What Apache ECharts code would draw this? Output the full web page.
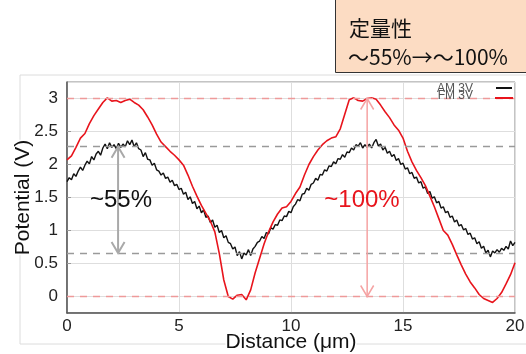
<!DOCTYPE html>
<html><head><meta charset="utf-8">
<script src="https://cdn.jsdelivr.net/npm/echarts@6/dist/echarts.min.js"></script>
<style>html,body{margin:0;padding:0;background:#fff}#c{width:526px;height:354px}</style>
</head><body><div id="c"></div>
<script>
// ---- data ----
const distanceAM = [0,0.1,0.2,0.3,0.4,0.5,0.6,0.7,0.8,0.9,1,1.1,1.2,1.3,1.4,1.5,1.6,1.7,1.8,1.9,2,2.1,2.2,2.3,2.4,2.5,2.6,2.7,2.8,2.9,3,3.1,3.2,3.3,3.4,3.5,3.6,3.7,3.8,3.9,4,4.1,4.2,4.3,4.4,4.5,4.6,4.7,4.8,4.9,5,5.1,5.2,5.3,5.4,5.5,5.6,5.7,5.8,5.9,6,6.1,6.2,6.3,6.4,6.5,6.6,6.7,6.8,6.9,7,7.1,7.2,7.3,7.4,7.5,7.6,7.7,7.8,7.9,8,8.1,8.2,8.3,8.4,8.5,8.6,8.7,8.8,8.9,9,9.1,9.2,9.3,9.4,9.5,9.6,9.7,9.8,9.9,10,10.1,10.2,10.3,10.4,10.5,10.6,10.7,10.8,10.9,11,11.1,11.2,11.3,11.4,11.5,11.6,11.7,11.8,11.9,12,12.1,12.2,12.3,12.4,12.5,12.6,12.7,12.8,12.9,13,13.1,13.2,13.3,13.4,13.5,13.6,13.7,13.8,13.9,14,14.1,14.2,14.3,14.4,14.5,14.6,14.7,14.8,14.9,15,15.1,15.2,15.3,15.4,15.5,15.6,15.7,15.8,15.9,16,16.1,16.2,16.3,16.4,16.5,16.6,16.7,16.8,16.9,17,17.1,17.2,17.3,17.4,17.5,17.6,17.7,17.8,17.9,18,18.1,18.2,18.3,18.4,18.5,18.6,18.7,18.8,18.9,19,19.1,19.2,19.3,19.4,19.5,19.6,19.7,19.8,19.9,20];
const am3v = [1.74,1.80,1.77,1.86,1.82,1.90,1.96,1.91,1.99,2.05,2.01,2.12,2.07,2.16,2.20,2.14,2.25,2.31,2.24,2.33,2.26,2.30,2.24,2.32,2.26,2.31,2.27,2.36,2.30,2.37,2.27,2.33,2.24,2.22,2.12,2.18,2.08,2.07,1.99,2.02,1.92,1.90,1.84,1.87,1.79,1.81,1.73,1.76,1.68,1.70,1.62,1.64,1.55,1.58,1.47,1.51,1.41,1.44,1.33,1.37,1.27,1.31,1.20,1.22,1.12,1.16,1.05,1.08,0.97,1.00,0.89,0.92,0.82,0.80,0.72,0.75,0.62,0.68,0.57,0.66,0.63,0.71,0.62,0.72,0.76,0.82,0.84,0.91,0.88,0.97,0.95,1.04,1.02,1.09,1.08,1.16,1.15,1.22,1.21,1.29,1.27,1.36,1.40,1.47,1.45,1.55,1.56,1.64,1.61,1.70,1.72,1.79,1.76,1.85,1.84,1.92,1.90,1.98,1.97,2.04,2.01,2.09,2.08,2.15,2.11,2.19,2.18,2.25,2.22,2.30,2.28,2.33,2.25,2.30,2.26,2.31,2.25,2.33,2.38,2.28,2.31,2.22,2.26,2.17,2.20,2.12,2.15,2.06,2.09,2.00,2.02,1.93,1.95,1.86,1.88,1.79,1.81,1.72,1.74,1.64,1.66,1.56,1.59,1.49,1.51,1.42,1.44,1.34,1.36,1.27,1.29,1.20,1.22,1.13,1.16,1.07,1.09,1.01,1.03,0.94,0.96,0.87,0.89,0.80,0.83,0.73,0.76,0.66,0.70,0.60,0.69,0.66,0.71,0.67,0.73,0.70,0.76,0.72,0.84,0.77,0.82];
const distanceFM = [0,0.2,0.4,0.6,0.8,1,1.2,1.4,1.6,1.8,2,2.2,2.4,2.6,2.8,3,3.2,3.4,3.6,3.8,4,4.2,4.4,4.6,4.8,5,5.2,5.4,5.6,5.8,6,6.2,6.4,6.6,6.8,7,7.2,7.4,7.6,7.8,8,8.2,8.4,8.6,8.8,9,9.2,9.4,9.6,9.8,10,10.2,10.4,10.6,10.8,11,11.2,11.4,11.6,11.8,12,12.2,12.4,12.6,12.8,13,13.2,13.4,13.6,13.8,14,14.2,14.4,14.6,14.8,15,15.2,15.4,15.6,15.8,16,16.2,16.4,16.6,16.8,17,17.2,17.4,17.6,17.8,18,18.2,18.4,18.6,18.8,19,19.2,19.4,19.6,19.8,20];
const fm3v = [2.07,2.13,2.26,2.40,2.47,2.62,2.74,2.84,2.94,3.01,2.96,2.97,2.94,2.97,2.99,2.94,2.90,2.83,2.72,2.60,2.46,2.34,2.27,2.20,2.14,2.07,1.99,1.84,1.67,1.52,1.38,1.26,1.14,0.98,0.65,0.25,0.00,-0.04,0.02,0.03,-0.05,0.10,0.36,0.58,0.80,0.98,1.13,1.25,1.34,1.36,1.44,1.56,1.66,1.84,2.00,2.12,2.22,2.30,2.36,2.40,2.42,2.54,2.76,2.98,3.01,2.97,2.96,3.00,3.01,2.99,2.90,2.80,2.71,2.60,2.52,2.40,2.20,2.04,1.91,1.80,1.68,1.52,1.36,1.18,1.00,0.93,0.79,0.63,0.48,0.34,0.22,0.13,0.03,-0.03,-0.06,-0.09,-0.03,0.06,0.19,0.33,0.51];
const seriesNames = ['AM 3V','FM 3V'];
const xTicks = [0,5,10,15,20];
const refRed = [3, 0];
const refGray = [2.27, 0.66];
const arrowAM = [2.28, 2.27, 0.66];
const arrowFM = [13.4, 3.0, 0.0];
const noteAM = [2.41, 1.46, '~55%'];
const noteFM = [13.17, 1.46, '~100%'];
const boxLines = ['定量性', '～55%→～100%'];

const font = '"Liberation Sans", Arial, sans-serif';
const chart = echarts.init(document.getElementById('c'), null, {renderer:'canvas'});

function arrowItem(params, api) {
  const a = params.dataIndex === 0 ? arrowAM : arrowFM;
  const p1 = api.coord([a[0], a[1]]);
  const p2 = api.coord([a[0], a[2]]);
  const col = params.dataIndex === 0 ? '#a9a9a9' : '#f5a3a3';
  const w = params.dataIndex === 0 ? 2 : 1.5;
  const hw = 6.5, hl = 11;
  return {type:'group', children:[
    {type:'line', shape:{x1:p1[0],y1:p1[1],x2:p2[0],y2:p2[1]}, style:{stroke:col,lineWidth:w}},
    {type:'polyline', shape:{points:[[p1[0]-hw,p1[1]+hl],[p1[0],p1[1]],[p1[0]+hw,p1[1]+hl]]}, style:{stroke:col,lineWidth:w,fill:null}},
    {type:'polyline', shape:{points:[[p2[0]-hw,p2[1]-hl],[p2[0],p2[1]],[p2[0]+hw,p2[1]-hl]]}, style:{stroke:col,lineWidth:w,fill:null}}
  ]};
}
function noteItem(params, api) {
  const n = params.dataIndex === 0 ? noteAM : noteFM;
  const p = api.coord([n[0], n[1]]);
  return {type:'text', x:p[0], y:p[1], style:{text:n[2], fill: params.dataIndex===0 ? '#111' : '#e8141c',
    font:'24px ' + font, textAlign:'center', textVerticalAlign:'middle'}};
}

const option = {
  animation:false,
  grid:{left:67, right:11, top:82, bottom:41, show:true, borderColor:'#888', borderWidth:1, outerBoundsMode:'none', containLabel:false},
  xAxis:{type:'value', min:0, max:20, interval:5,
    name:'Distance (μm)', nameLocation:'middle', nameGap:19, nameMoveOverlap:false,
    nameTextStyle:{fontSize:21, color:'#111', fontFamily:font, backgroundColor:'#fff'},
    axisLine:{show:true, onZero:false, lineStyle:{color:'#555', width:1.5}},
    axisTick:{show:false},
    axisLabel:{fontSize:17, color:'#222', fontFamily:font, margin:5,
      formatter:v => xTicks.includes(v) ? String(v) : ''},
    splitLine:{show:true, lineStyle:{color:'#dedede', width:1}}},
  yAxis:{type:'value', min:-0.25, max:3.25, splitNumber:7,
    name:'Potential (V)', nameLocation:'middle', nameGap:33, nameMoveOverlap:false,
    nameTextStyle:{fontSize:21, color:'#111', fontFamily:font, backgroundColor:'#fff'},
    axisLine:{show:true, onZero:false, lineStyle:{color:'#555', width:1.5}},
    axisTick:{show:true, inside:true, length:4, lineStyle:{color:'#999'}},
    axisLabel:{fontSize:17, color:'#222', fontFamily:font, margin:9, showMinLabel:false, showMaxLabel:false,
      formatter:v => (Math.abs(v*2 - Math.round(v*2)) < 1e-6) ? String(v) : ''},
    splitLine:{show:true, lineStyle:{color:'#dedede', width:1}}},
  graphic:[
    {type:'rect', z:-10, shape:{x:20, y:75, width:520, height:269}, style:{fill:null, stroke:'#dcdcdc', lineWidth:1}},
    {type:'rect', z:10, shape:{x:335.5, y:-2, width:200, height:74.5}, style:{fill:'#fcdcc3', stroke:'#333', lineWidth:1}},
    {type:'text', z:11, x:349, y:28, style:{text:boxLines[0], font:'21px "Noto Sans CJK JP"', fill:'#111', textVerticalAlign:'middle'}},
    {type:'text', z:11, x:348, y:57, style:{text:boxLines[1], font:'21px "Noto Sans CJK JP"', fill:'#111', textVerticalAlign:'middle'}},
    {type:'text', z:11, x:473, y:89, style:{text:seriesNames[0], font:'12px ' + font, fill:'#555', textAlign:'right', textVerticalAlign:'middle'}},
    {type:'line', z:11, shape:{x1:496, y1:88, x2:512, y2:88}, style:{stroke:'#111', lineWidth:2}},
    {type:'text', z:11, x:473, y:96, style:{text:seriesNames[1], font:'12px ' + font, fill:'#555', textAlign:'right', textVerticalAlign:'middle'}},
    {type:'line', z:11, shape:{x1:495, y1:98, x2:513, y2:98}, style:{stroke:'#e8141c', lineWidth:2}}
  ],
  series:[
    {type:'line', name:seriesNames[0], data:distanceAM.map((x,i)=>[x, am3v[i]]), showSymbol:false,
      lineStyle:{color:'#111', width:1.4}, z:3,
      markLine:{silent:true, symbol:'none', label:{show:false},
        lineStyle:{color:'#9a9a9a', type:[7,6], width:1.3},
        data:refGray.map(v=>({yAxis:v}))}},
    {type:'line', name:seriesNames[1], data:distanceFM.map((x,i)=>[x, fm3v[i]]), showSymbol:false,
      lineStyle:{color:'#e8141c', width:1.6}, z:4,
      markLine:{silent:true, symbol:'none', label:{show:false},
        lineStyle:{color:'#ee9a9a', type:[7,6], width:1.3},
        data:refRed.map(v=>({yAxis:v}))}},
    {type:'custom', renderItem:arrowItem, data:[[arrowAM[0],arrowAM[1]],[arrowFM[0],arrowFM[1]]], z:5, silent:true},
    {type:'custom', renderItem:noteItem, data:[[noteAM[0],noteAM[1]],[noteFM[0],noteFM[1]]], z:6, silent:true}
  ]
};
chart.setOption(option);
</script></body></html>
